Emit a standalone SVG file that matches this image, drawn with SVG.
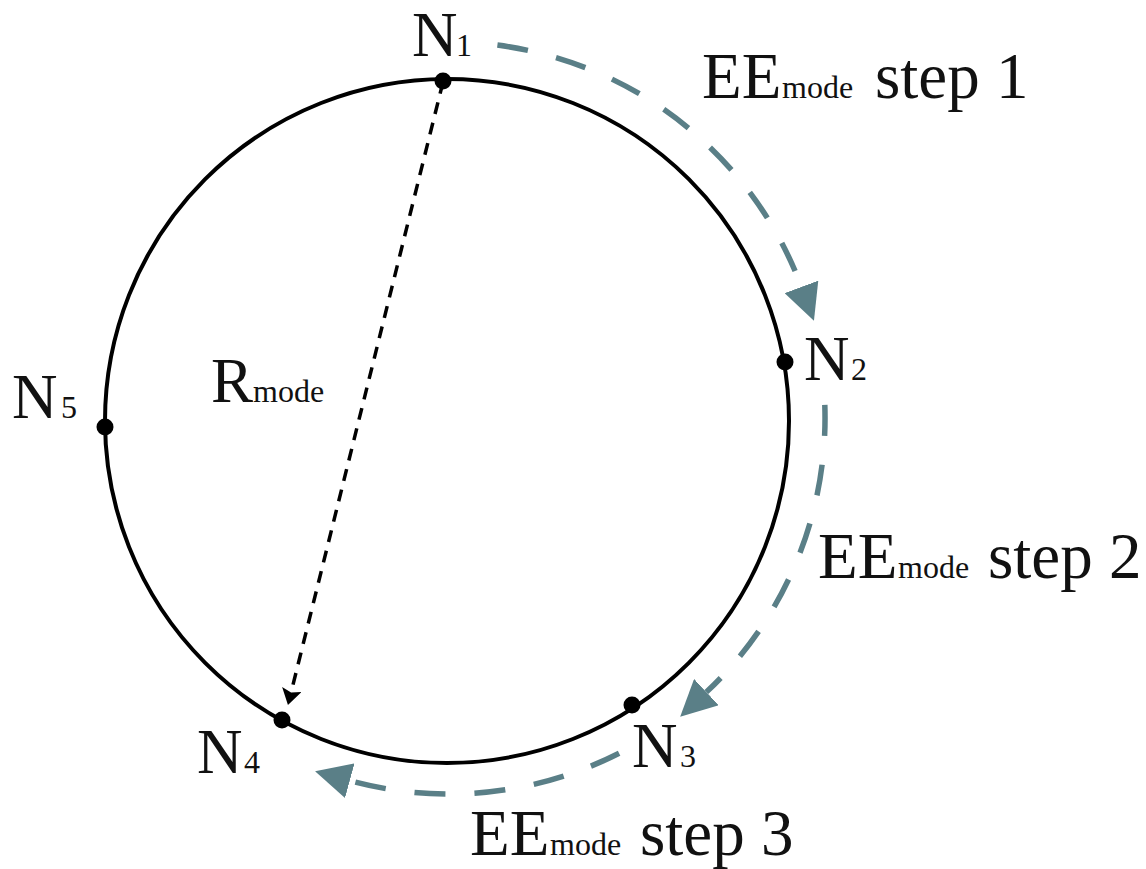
<svg xmlns="http://www.w3.org/2000/svg" width="1146" height="869" viewBox="0 0 1146 869">
<style>
  .bg{fill:#ffffff}
  .ring{fill:none;stroke:#000;stroke-width:4}
  .dot{fill:#000}
  .lbl{font-family:"Liberation Serif","Times New Roman",serif;font-size:63px;fill:#111}
  .big{font-family:"Liberation Serif","Times New Roman",serif;font-size:65px;fill:#111}
  .sub{font-size:32px}
  .step{fill:none;stroke:#5a7f87;stroke-width:5.5;stroke-dasharray:31 29}
  .rad{fill:none;stroke:#000;stroke-width:3.5;stroke-dasharray:12 9}
</style>
<defs>
  <marker id="tealHead" viewBox="0 0 36 36" refX="0" refY="18" markerWidth="36" markerHeight="36" markerUnits="userSpaceOnUse" orient="auto">
    <path d="M0,0 L36,18 L0,36 z" fill="#5a7f87"/>
  </marker>
  <marker id="blackHead" viewBox="0 0 16 20" refX="3" refY="10" markerWidth="16" markerHeight="20" markerUnits="userSpaceOnUse" orient="auto">
    <path d="M0,0 L16,10 L0,20 L3,10 z" fill="#000"/>
  </marker>
</defs>
<rect class="bg" x="0" y="0" width="1146" height="869"/>
<g id="ring">
  <circle class="ring" cx="447" cy="421" r="342"/>
</g>
<g id="connectors">
  <path id="rmode-line" class="rad" d="M443,82 L291.1,692.4" marker-end="url(#blackHead)"/>
  <path id="step1" class="step" d="M497.4,45.1 A376,376 0 0 1 801.4,286.9" marker-end="url(#tealHead)"/>
  <path id="step2" class="step" d="M824.8,404.9 A376,376 0 0 1 706.4,692.1" marker-end="url(#tealHead)"/>
  <path id="step3" class="step" d="M619.1,753.3 A376,376 0 0 1 349.8,780.7" marker-end="url(#tealHead)"/>
</g>
<g id="N1">
  <circle class="dot" cx="443" cy="81" r="8.5"/>
  <text class="lbl" x="412" y="56">N<tspan class="sub" x="456">1</tspan></text>
</g>
<g id="N2">
  <circle class="dot" cx="785" cy="362" r="8.5"/>
  <text class="lbl" x="804" y="380">N<tspan class="sub" x="851">2</tspan></text>
</g>
<g id="N3">
  <circle class="dot" cx="632" cy="705" r="8.5"/>
  <text class="lbl" x="632" y="767">N<tspan class="sub" x="680">3</tspan></text>
</g>
<g id="N4">
  <circle class="dot" cx="282" cy="720" r="8.5"/>
  <text class="lbl" x="197" y="773">N<tspan class="sub" x="244">4</tspan></text>
</g>
<g id="N5">
  <circle class="dot" cx="105" cy="427" r="8.5"/>
  <text class="lbl" x="12" y="418">N<tspan class="sub" x="61">5</tspan></text>
</g>
<g id="label-rmode">
  <text class="lbl" x="211" y="402">R<tspan class="sub" x="253">mode</tspan></text>
</g>
<g id="label-step1">
  <text class="big" x="702" y="98">EE<tspan class="sub" x="782">mode</tspan><tspan x="875">step 1</tspan></text>
</g>
<g id="label-step2">
  <text class="big" x="818" y="578">EE<tspan class="sub" x="898">mode</tspan><tspan x="988">step 2</tspan></text>
</g>
<g id="label-step3">
  <text class="big" x="470" y="855">EE<tspan class="sub" x="550">mode</tspan><tspan x="640">step 3</tspan></text>
</g>
</svg>
